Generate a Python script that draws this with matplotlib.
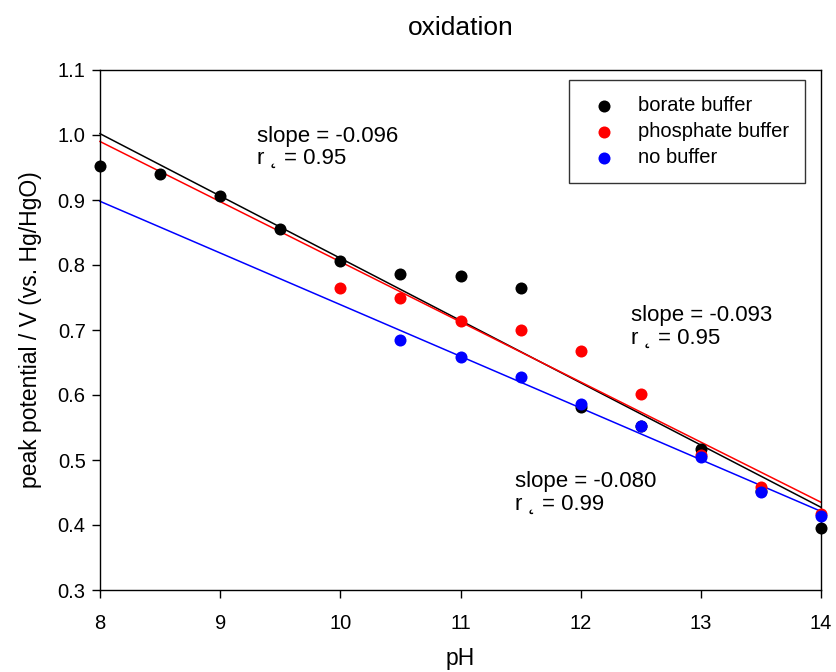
import numpy as np
import matplotlib
matplotlib.use('Agg')
from matplotlib import pyplot as plt

plt.rcParams['font.family'] = ['Liberation Sans', 'DejaVu Sans']

# data
ph_borate = [8, 8.5, 9, 9.5, 10, 10.5, 11, 11.5, 12, 12.5, 13, 13.5, 14]
ep_borate = [0.952, 0.940, 0.906, 0.855, 0.806, 0.786, 0.783, 0.765, 0.581, 0.552, 0.517, 0.452, 0.395]

ph_phosphate = [10, 10.5, 11, 11.5, 12, 12.5, 13, 13.5, 14]
ep_phosphate = [0.765, 0.749, 0.714, 0.700, 0.668, 0.601, 0.507, 0.459, 0.417]

ph_none = [10.5, 11, 11.5, 12, 12.5, 13, 13.5, 14]
ep_none = [0.685, 0.659, 0.628, 0.586, 0.553, 0.505, 0.451, 0.414]

labels = ['borate buffer', 'phosphate buffer', 'no buffer']
colors = ['black', 'red', 'blue']
fit_text = ['slope = -0.096\nr \u02db = 0.95', 'slope = -0.093\nr \u02db = 0.95', 'slope = -0.080\nr \u02db = 0.99']
text_pos = [(9.31, 0.981), (12.42, 0.705), (11.45, 0.449)]

fig = plt.figure(figsize=(8.36, 6.72), dpi=100)
ax = fig.add_axes([100/836, 1-590/672, 721/836, 520/672])

# regression lines drawn across the whole pH range
xfit = np.array([8, 14])
series = [(ph_borate, ep_borate), (ph_phosphate, ep_phosphate), (ph_none, ep_none)]
for (x, y), c in zip(series, colors):
    m, b = np.polyfit(x, y, 1)
    ax.plot(xfit, m*xfit + b, color=c, lw=1.1, zorder=2, clip_on=False)
for (x, y), c, lab in zip(series, colors, labels):
    ax.scatter(x, y, s=75, color=c, label=lab, zorder=3, clip_on=False, linewidths=0)

for t, (tx, ty) in zip(fit_text, text_pos):
    ax.text(tx, ty, t, fontsize=16, ha='left', va='center', linespacing=1.1)

ax.set_xlim(8, 14)
ax.set_ylim(0.3, 1.1)
ax.set_xticks(range(8, 15))
ax.set_yticks(np.arange(0.3, 1.11, 0.1))
ax.set_yticklabels(['%.1f' % v for v in np.arange(0.3, 1.11, 0.1)])
ax.tick_params(direction='out', length=6, width=1, labelsize=14.5, pad=4.3)
ax.xaxis.set_tick_params(pad=11)
for s in ax.spines.values():
    s.set_linewidth(1)

ax.set_xlabel('pH', fontsize=16.5, labelpad=10)
ax.set_ylabel('peak potential / V (vs. Hg/HgO)', fontsize=16.5, labelpad=11)
ax.set_title('oxidation', fontsize=19, pad=25)

leg = ax.legend(loc='upper right', bbox_to_anchor=(0.978, 0.981), fontsize=14.5,
                frameon=True, fancybox=False, edgecolor='black', borderpad=0.8,
                handletextpad=0.8, labelspacing=0.35, borderaxespad=0, scatterpoints=1,
                handlelength=1.8)
leg.get_frame().set_linewidth(1)

plt.savefig('out.png', dpi=100)
